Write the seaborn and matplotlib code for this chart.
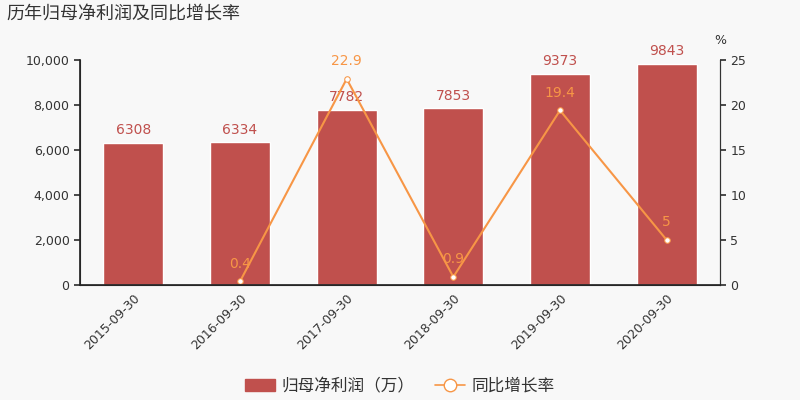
import numpy as np
import pandas as pd
import seaborn as sns
import matplotlib.pyplot as plt
from matplotlib.lines import Line2D
from matplotlib.patches import Patch

# dados
datas = ['2015-09-30', '2016-09-30', '2017-09-30', '2018-09-30', '2019-09-30', '2020-09-30']
lucro = [6308, 6334, 7782, 7853, 9373, 9843]
datas_cresc = ['2016-09-30', '2017-09-30', '2018-09-30', '2019-09-30', '2020-09-30']
cresc = [0.4, 22.9, 0.9, 19.4, 5]

cor_barra = '#c0504d'
cor_linha = '#f79646'
cor_texto = '#333333'
fundo = '#f8f8f8'

sns.set_theme(style='white')
# DejaVu para os números, Noto CJK para o chinês
plt.rcParams['font.family'] = ['DejaVu Sans', 'Noto Sans CJK SC']
plt.rcParams['axes.unicode_minus'] = False

fig = plt.figure(figsize=(8, 4), dpi=100, facecolor=fundo)
ax = fig.add_axes([0.1, 0.2875, 0.8, 0.5625])
ax.set_facecolor(fundo)

tabela = pd.DataFrame({'data': datas, 'lucro': lucro})
sns.barplot(data=tabela, x='data', y='lucro', color=cor_barra, saturation=1,
            width=0.56, ax=ax)
for p, v in zip(ax.patches, lucro):
    ax.text(p.get_x() + p.get_width() / 2, v + 250, str(v), ha='center', va='bottom',
            color=cor_barra, fontsize=10)

ax.set_xlim(-0.5, len(datas) - 0.5)
ax.set_ylim(0, 10000)
ax.set_yticks(range(0, 10001, 2000))
ax.set_yticklabels([f'{t:,}' for t in range(0, 10001, 2000)], fontsize=9, color=cor_texto)
ax.set_xticks(range(len(datas)))
ax.set_xticklabels(datas, rotation=45, ha='right', rotation_mode='anchor', fontsize=9, color=cor_texto)
ax.set_xticks(np.arange(-0.5, len(datas), 1), minor=True)
ax.tick_params(axis='x', which='major', length=0, pad=5)
ax.tick_params(axis='x', which='minor', length=4, color=cor_texto, direction='out')
ax.tick_params(axis='y', length=4, color=cor_texto, direction='out', left=True)
ax.set_xlabel('')
ax.set_ylabel('')
for lado in ['left', 'bottom', 'right']:
    ax.spines[lado].set_color(cor_texto)
    ax.spines[lado].set_linewidth(0.8)
ax.spines['top'].set_visible(False)

ax2 = ax.twinx()
pos = [datas.index(d) for d in datas_cresc]
sns.lineplot(x=pos, y=cresc, ax=ax2, color=cor_linha, linewidth=1.5, marker='o',
             markersize=4, markerfacecolor='white', markeredgecolor=cor_linha)
for x, v in zip(pos, cresc):
    ax2.text(x, v + 1.2, f'{v:g}', ha='center', va='bottom', color=cor_linha, fontsize=10)
ax2.set_ylim(0, 25)
ax2.set_yticks(range(0, 26, 5))
ax2.tick_params(axis='y', labelsize=9, labelcolor=cor_texto, length=4, color=cor_texto,
                direction='out', right=True)
ax2.spines['top'].set_visible(False)
ax2.spines['right'].set_color(cor_texto)
ax2.spines['right'].set_linewidth(0.8)
ax2.set_xlim(-0.5, len(datas) - 0.5)
ax2.text(1.0, 1.06, '%', transform=ax2.transAxes, ha='center', va='bottom',
         fontsize=9, color=cor_texto)

fig.text(0.008, 0.965, '历年归母净利润及同比增长率', fontsize=13, color=cor_texto,
         ha='left', va='center')

handles = [Patch(facecolor=cor_barra, edgecolor=cor_barra),
           Line2D([], [], color=cor_linha, marker='o', markersize=9,
                  markerfacecolor='white', markeredgecolor=cor_linha, linewidth=1.2)]
fig.legend(handles, ['归母净利润（万）', '同比增长率'], loc='center', bbox_to_anchor=(0.5, 0.035),
           ncol=2, frameon=False, fontsize=12, labelcolor=cor_texto,
           handlelength=1.8, columnspacing=1.2, handletextpad=0.4)

fig.savefig('out.png', dpi=100, facecolor=fundo)
